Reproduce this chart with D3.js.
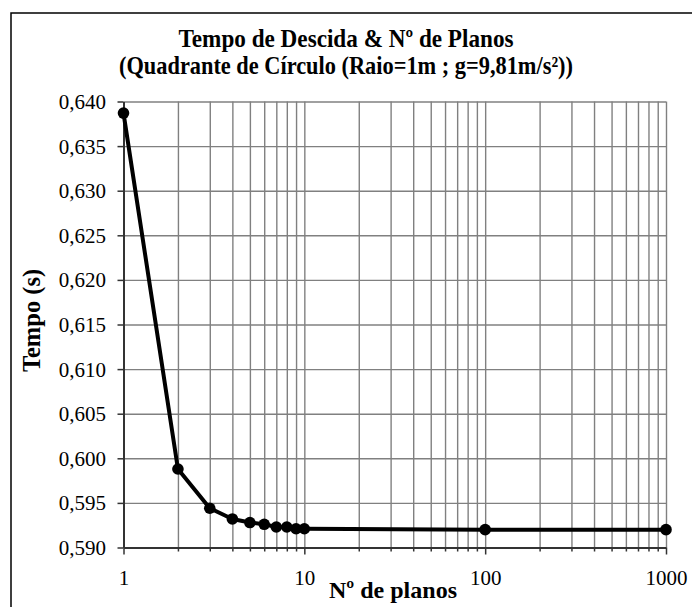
<!DOCTYPE html>
<html>
<head>
<meta charset="utf-8">
<script src="https://cdn.jsdelivr.net/npm/d3@7"></script>
<style>
  body { margin: 0; background: #fff; }
  svg { display: block; }
</style>
</head>
<body>
<svg id="chart" width="692" height="607"></svg>
<script>
// Descent time along n inscribed planes of a quarter circle
const planes = [1, 2, 3, 4, 5, 6, 7, 8, 9, 10, 100, 1000];
const times = [0.6387, 0.5988, 0.5944, 0.5932, 0.5928, 0.5926, 0.5923, 0.5923, 0.5921, 0.5921, 0.5920, 0.5920];
const xLabelTicks = [1, 10, 100, 1000];
const yTicks = [0.590, 0.595, 0.600, 0.605, 0.610, 0.615, 0.620, 0.625, 0.630, 0.635, 0.640];
const titleLines = ["Tempo de Descida & Nº de Planos", "(Quadrante de Círculo (Raio=1m ; g=9,81m/s²))"];
const titleWidths = [335, 454];
const xTitle = "Nº de planos";
const yTitle = "Tempo (s)";

const SERIF = "Liberation Serif";

const svg = d3.select("#chart")
  .attr("font-family", SERIF)
  .style("font-family", SERIF);

const plot = { left: 123.5, right: 666, top: 101.5, bottom: 547.5 };

const x = d3.scaleLog().domain([1, 1000]).range([plot.left, plot.right]);
const y = d3.scaleLinear().domain([0.590, 0.640]).range([plot.bottom, plot.top]);

const ptFormat = d3.formatLocale({ decimal: ",", thousands: ".", grouping: [3], currency: ["", ""] }).format(".3f");

// outer chart frame
svg.append("rect")
  .attr("x", 11).attr("y", 13).attr("width", 700).attr("height", 620)
  .attr("fill", "none").attr("stroke", "#000").attr("stroke-width", 1.5);

// title (Times-style bold, slightly condensed)
svg.append("g").selectAll("text").data(titleLines).join("text")
  .attr("x", 346).attr("y", (d, i) => 46.5 + i * 27)
  .attr("text-anchor", "middle")
  .attr("font-family", SERIF).style("font-family", SERIF)
  .attr("textLength", (d, i) => titleWidths[i]).attr("lengthAdjust", "spacingAndGlyphs")
  .style("font-size", "25px").style("font-weight", "bold")
  .text(d => d);

// gridlines
const xGrid = d3.axisBottom(x).tickValues(x.ticks().filter(d => d > 1))
  .tickSize(-(plot.bottom - plot.top)).tickFormat("");
svg.append("g").attr("transform", `translate(0,${plot.bottom})`).call(xGrid)
  .call(g => g.select(".domain").remove())
  .call(g => g.selectAll("line").attr("stroke", "#808080").attr("stroke-width", 1.4));

const yGrid = d3.axisLeft(y).tickValues(yTicks.filter(d => d > 0.590))
  .tickSize(-(plot.right - plot.left)).tickFormat("");
svg.append("g").attr("transform", `translate(${plot.left},0)`).call(yGrid)
  .call(g => g.select(".domain").remove())
  .call(g => g.selectAll("line").attr("stroke", "#808080").attr("stroke-width", 1.4));

// x axis
const xAxis = d3.axisBottom(x).tickValues(x.ticks()).tickSizeInner(4).tickSizeOuter(0)
  .tickFormat(d => xLabelTicks.includes(d) ? String(d) : "");
svg.append("g").attr("transform", `translate(0,${plot.bottom})`).call(xAxis)
  .attr("font-family", SERIF).attr("font-size", 21)
  .call(g => g.select(".domain").attr("stroke", "#333").attr("stroke-width", 2))
  .call(g => g.selectAll(".tick line").attr("stroke", "#333").attr("stroke-width", 1.5)
    .attr("y2", d => xLabelTicks.includes(d) ? 7 : 4))
  .call(g => g.selectAll(".tick text").attr("y", 37.5).attr("dy", 0)
    .attr("fill", "#000").attr("font-family", SERIF).style("font-family", SERIF));

// y axis
const yAxis = d3.axisLeft(y).tickValues(yTicks).tickSizeInner(6).tickSizeOuter(0)
  .tickFormat(ptFormat);
svg.append("g").attr("transform", `translate(${plot.left},0)`).call(yAxis)
  .attr("font-family", SERIF).attr("font-size", 21)
  .call(g => g.select(".domain").attr("stroke", "#333").attr("stroke-width", 2))
  .call(g => g.selectAll(".tick line").attr("stroke", "#333").attr("stroke-width", 1.5))
  .call(g => g.selectAll(".tick text").attr("x", -17.5).attr("dy", "0.33em")
    .attr("fill", "#000").attr("font-family", SERIF).style("font-family", SERIF));

// axis titles
svg.append("text")
  .attr("x", 393).attr("y", 598).attr("text-anchor", "middle")
  .attr("font-family", SERIF).style("font-family", SERIF)
  .style("font-size", "24px").style("font-weight", "bold")
  .text(xTitle);

svg.append("text")
  .attr("transform", "translate(40,320.5) rotate(-90)").attr("text-anchor", "middle")
  .attr("font-family", SERIF).style("font-family", SERIF)
  .style("font-size", "24.5px").style("font-weight", "bold")
  .text(yTitle);

// data series
const line = d3.line().x((d, i) => x(planes[i])).y(d => y(d));
svg.append("path").datum(times)
  .attr("d", line).attr("fill", "none")
  .attr("stroke", "#000").attr("stroke-width", 4).attr("stroke-linejoin", "round");

svg.append("g").selectAll("circle").data(times).join("circle")
  .attr("cx", (d, i) => x(planes[i])).attr("cy", d => y(d))
  .attr("r", 5.8).attr("fill", "#000");
</script>
</body>
</html>
